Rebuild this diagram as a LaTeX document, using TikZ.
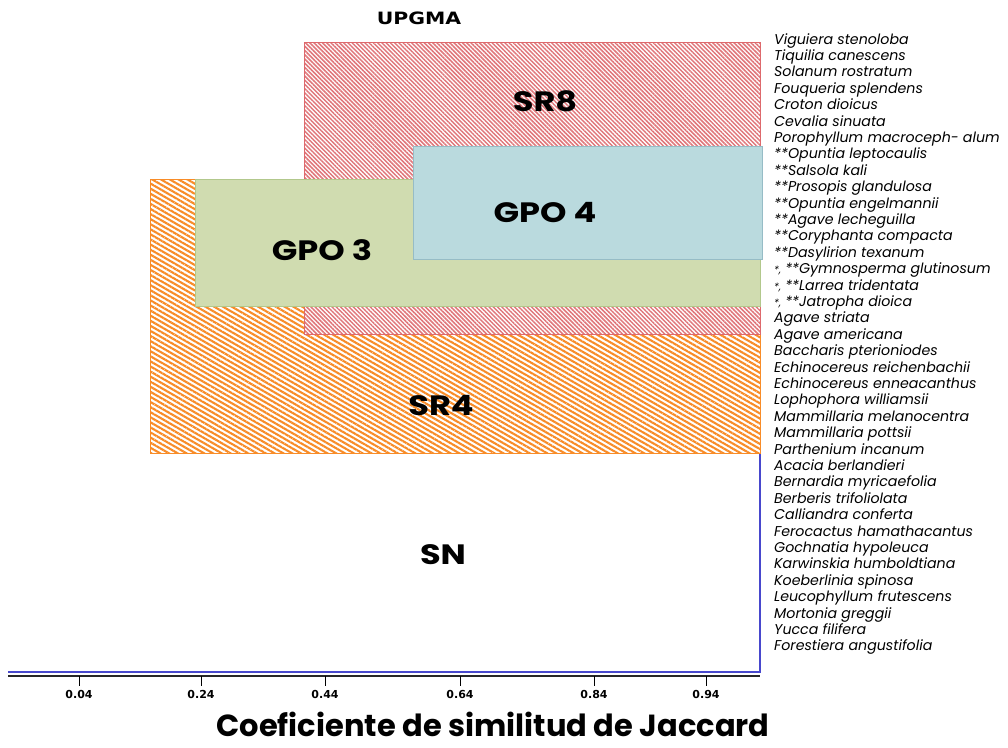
\documentclass[tikz,border=0pt]{standalone}
\usepackage{fontspec}
\setmainfont{Lato}
\newfontfamily\bigf{Poppins}[FakeStretch=1.2]
\newfontfamily\titlef{Poppins}
\newfontfamily\listf{Poppins}
\newfontfamily\dejaf{DejaVu Sans}
\newfontfamily\upf{DejaVu Sans}[FakeStretch=1.2]
\usetikzlibrary{patterns.meta}
\definecolor{redline}{RGB}{224,118,122}
\definecolor{redborder}{RGB}{222,105,108}
\definecolor{orline}{RGB}{248,140,40}
\definecolor{greenfill}{RGB}{208,220,176}
\definecolor{greenborder}{RGB}{178,200,140}
\definecolor{bluefill}{RGB}{186,218,222}
\definecolor{blueborder}{RGB}{150,188,198}
\definecolor{dendro}{RGB}{72,72,205}
\tikzset{
  box/.style={anchor=north west, inner sep=0pt, outer sep=0pt},
  redbox/.style={box, draw=redborder, line width=0.8pt, preaction={fill=white}, pattern={Lines[angle=-45,distance=3pt,line width=1.5pt]}, pattern color=redline},
  orbox/.style={box, draw=orline, line width=0.8pt, preaction={fill=white}, pattern={Lines[angle=-30,distance=4.4pt,line width=2.1pt]}, pattern color=orline},
  greenbox/.style={box, draw=greenborder, line width=0.6pt, fill=greenfill},
  bluebox/.style={box, draw=blueborder, line width=0.6pt, fill=bluefill},
  grouplabel/.style={font=\bigf\bfseries\fontsize{28}{30}\selectfont, inner sep=0pt},
  species/.style={anchor=base west, inner sep=0pt, font=\listf\itshape\fontsize{14.2}{15}\selectfont},
  ticklabel/.style={font=\dejaf\bfseries\fontsize{11}{12}\selectfont, inner sep=0pt},
  tick/.style={line width=1pt, black},
}
\begin{document}
\begin{tikzpicture}[x=1pt,y=-1pt]
\useasboundingbox (0,0) rectangle (1008,747);
% dendrogram root
\coordinate (rootL) at (8,672);
\coordinate (rootC) at (760,672);
\coordinate (rootT) at (760,42);
\draw[dendro, line width=1.2pt] (rootL) -- (rootC) -- (rootT);
% group boxes
\node[orbox, minimum width=610pt, minimum height=274pt] (sr4) at (150,179) {};
\node[redbox, minimum width=456pt, minimum height=292pt] (sr8) at (304,42) {};
\node[greenbox, minimum width=565pt, minimum height=127pt] (gpo3) at (195,179) {};
\node[bluebox, minimum width=349pt, minimum height=113pt] (gpo4) at (413,146) {};
% labels
\node[grouplabel] (lsr8) at (545,101) {SR8};
\node[grouplabel] (lgpo4) at (545,213) {GPO 4};
\node[grouplabel] (lgpo3) at (322,250) {GPO 3};
\node[grouplabel] (lsr4) at (441,406) {SR4};
\node[grouplabel] (lsn) at (443,555) {SN};
\node[font=\upf\bfseries\fontsize{17}{18}\selectfont, inner sep=0pt] (title) at (419,18) {UPGMA};
% axis
\coordinate (axL) at (8,676);
\coordinate (axR) at (760,676);
\draw[line width=1.2pt, black!85] (axL) -- (axR);
\foreach \x/\t [count=\k] in {79/0.04,201/0.24,325/0.44,460/0.64,594/0.84,706/0.94}{
  \coordinate (tk\k) at (\x,676);
  \coordinate (tkb\k) at (\x,686);
  \draw[tick] (tk\k) -- (tkb\k);
  \node[ticklabel] (tl\k) at (\x,694) {\t};
}
\node[font=\titlef\bfseries\fontsize{30.5}{34}\selectfont, inner sep=0pt, anchor=base] (xlabel) at (493,736) {Coeficiente de similitud de Jaccard};
% species list
\foreach \s [count=\i from 0] in {
 Viguiera stenoloba, Tiquilia canescens, Solanum rostratum, Fouqueria splendens,
 Croton dioicus, Cevalia sinuata, Porophyllum macroceph- alum,
 **Opuntia leptocaulis, **Salsola kali, **Prosopis glandulosa, **Opuntia engelmannii,
 **Agave lecheguilla, **Coryphanta compacta, **Dasylirion texanum,
 {{\fontsize{10}{10}\selectfont *,} **Gymnosperma glutinosum},
 {{\fontsize{10}{10}\selectfont *,} **Larrea tridentata},
 {{\fontsize{10}{10}\selectfont *,} **Jatropha dioica},
 Agave striata, Agave americana, Baccharis pterioniodes, Echinocereus reichenbachii,
 Echinocereus enneacanthus, Lophophora williamsii, Mammillaria melanocentra,
 Mammillaria pottsii, Parthenium incanum, Acacia berlandieri, Bernardia myricaefolia,
 Berberis trifoliolata, Calliandra conferta, Ferocactus hamathacantus,
 Gochnatia hypoleuca, Karwinskia humboldtiana, Koeberlinia spinosa,
 Leucophyllum frutescens, Mortonia greggii, Yucca filifera, Forestiera angustifolia}{
  \node[species] (sp\i) at (774,{44+16.405*\i}) {\s};
}
\end{tikzpicture}
\end{document}
